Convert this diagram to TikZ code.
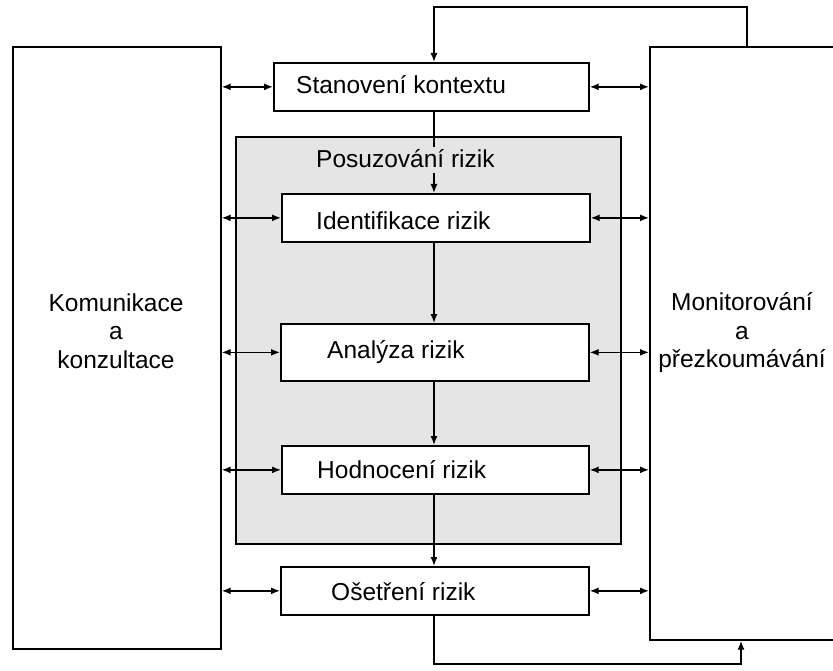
\documentclass[tikz,border=0pt]{standalone}
\usepackage{fontspec}
\setmainfont{Liberation Sans}
\usetikzlibrary{arrows.meta,calc}
\begin{document}
\begin{tikzpicture}[x=1pt,y=-1pt,
  box/.style={draw, line width=1.7pt, fill=white, inner sep=0pt, anchor=north west},
  lbl/.style={font=\fontsize{24.5}{28.5}\selectfont, inner sep=0pt},
  conn/.style={line width=1.4pt},
  tip/.style={-{Latex[length=9pt,width=7pt]}},
  dtip/.style={{Latex[length=9pt,width=7pt]}-{Latex[length=9pt,width=7pt]}}]
\useasboundingbox (0,0) rectangle (833,671);
% big side boxes
\node[box, minimum width=208pt, minimum height=602pt] (left) at (12,46) {};
\node[box, minimum width=200pt, minimum height=593pt] (right) at (649,46) {};
% shaded assessment box
\node[box, fill=black!10, minimum width=385pt, minimum height=407pt] (shade) at (235,136) {};
% process boxes
\node[box, minimum width=315pt, minimum height=48pt] (stan) at (273,62) {};
\node[box, minimum width=308pt, minimum height=48pt] (ident) at (281,193) {};
\node[box, minimum width=308pt, minimum height=57pt] (anal) at (280,323) {};
\node[box, minimum width=307pt, minimum height=48pt] (hodn) at (281,445) {};
\node[box, minimum width=308pt, minimum height=48pt] (oset) at (280,566) {};
% labels
\node[lbl, anchor=base west] (tstan) at (296,94) {Stanovení kontextu};
\node[lbl, anchor=base west] (pos) at (316,168) {Posuzování rizik};
\node[lbl, anchor=base west] (tident) at (316,230) {Identifikace rizik};
\node[lbl, anchor=base west] (tanal) at (327,358) {Analýza rizik};
\node[lbl, anchor=base west] (thodn) at (317,478) {Hodnocení rizik};
\node[lbl, anchor=base west] (toset) at (331,600) {Ošetření rizik};
\node[lbl, align=center] (tleft) at (116,331) {Komunikace\\a\\konzultace};
\node[lbl, align=center] (tright) at (742,333) {Monitorování\\a\\přezkoumávání};
% vertical flow
\coordinate (vx) at (434,0);
\draw[conn] (stan.south -| vx) -- ($(pos.north -| vx)+(0,-3)$);
\draw[conn,tip] ($(pos.south -| vx)+(0,5)$) -- (ident.north -| vx);
\draw[conn,tip] (ident.south -| vx) -- (anal.north -| vx);
\draw[conn,tip] (anal.south -| vx) -- (hodn.north -| vx);
\draw[conn,tip] (hodn.south -| vx) -- (oset.north -| vx);
% feedback loops
\coordinate (tl) at (747,7);
\draw[conn,tip] (right.north -| tl) -- (tl) -| (stan.north -| vx);
\coordinate (bl) at (741,664);
\draw[conn,tip] (oset.south -| vx) |- (bl) -- (right.south -| bl);
% horizontal double arrows
\foreach \b in {stan,ident,anal,hodn,oset}{
  \draw[conn,dtip] (left.east |- \b.west) -- (\b.west);
  \draw[conn,dtip] (\b.east) -- (right.west |- \b.east);
}
\end{tikzpicture}
\end{document}
